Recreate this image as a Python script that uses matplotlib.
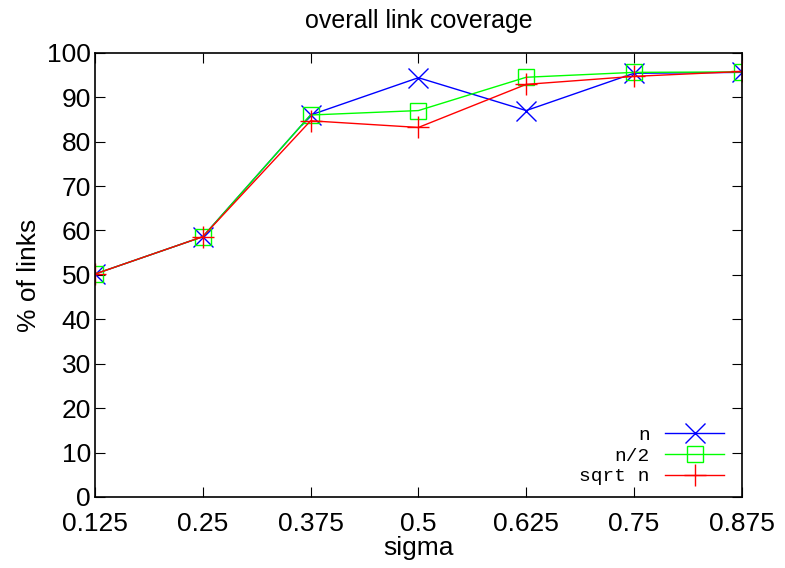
import matplotlib
matplotlib.use("Agg")
import matplotlib.pyplot as plt

sigma = [0.125, 0.25, 0.375, 0.5, 0.625, 0.75, 0.875]
xticklabels = ["0.125", "0.25", "0.375", "0.5", "0.625", "0.75", "0.875"]
cov_n = [50.2, 58.6, 86.0, 94.4, 87.0, 95.4, 95.6]
cov_half = [50.2, 58.6, 86.0, 87.0, 94.5, 95.6, 95.7]
cov_sqrt = [50.2, 58.6, 84.7, 83.2, 92.9, 94.7, 95.8]

plt.rcParams['font.family'] = ['Liberation Sans', 'DejaVu Sans']
fig = plt.figure(figsize=(7.85, 5.68), dpi=100)
ax = fig.add_axes([0.121, 0.125, 0.824, 0.782])

ax.plot(sigma, cov_n, color='#0000ff', lw=1, marker='x', ms=14, mew=1, label='n')
ax.plot(sigma, cov_half, color='#00ff00', lw=1, marker='s', ms=12, mfc='none', mew=1, label='n/2')
ax.plot(sigma, cov_sqrt, color='#ff0000', lw=1, marker='+', ms=16, mew=1, label='sqrt n')

ax.set_xlim(0.125, 0.875)
ax.set_ylim(0, 100)
ax.set_xticks(sigma)
ax.set_xticklabels(xticklabels)
ax.set_yticks(range(0, 101, 10))
ax.tick_params(direction='in', top=True, right=True, labelsize=19, length=7, pad=3)
ax.tick_params(axis='x', pad=11)
for s in ax.spines.values():
    s.set_linewidth(1.2)
ax.set_xlabel('sigma', fontsize=19, labelpad=0)
ax.set_ylabel('% of links', fontsize=19, labelpad=4)
ax.set_title('overall link coverage', fontsize=18, pad=18)

leg = ax.legend(loc='lower right', frameon=False, markerfirst=False,
                prop={'family': ['Liberation Mono'], 'size': 14},
                handlelength=3.0, labelspacing=0.15, borderaxespad=0.2,
                bbox_to_anchor=(0.99, 0.0))
for t in leg.get_texts():
    t.set_ha('right')

fig.savefig('out.png', dpi=100)
